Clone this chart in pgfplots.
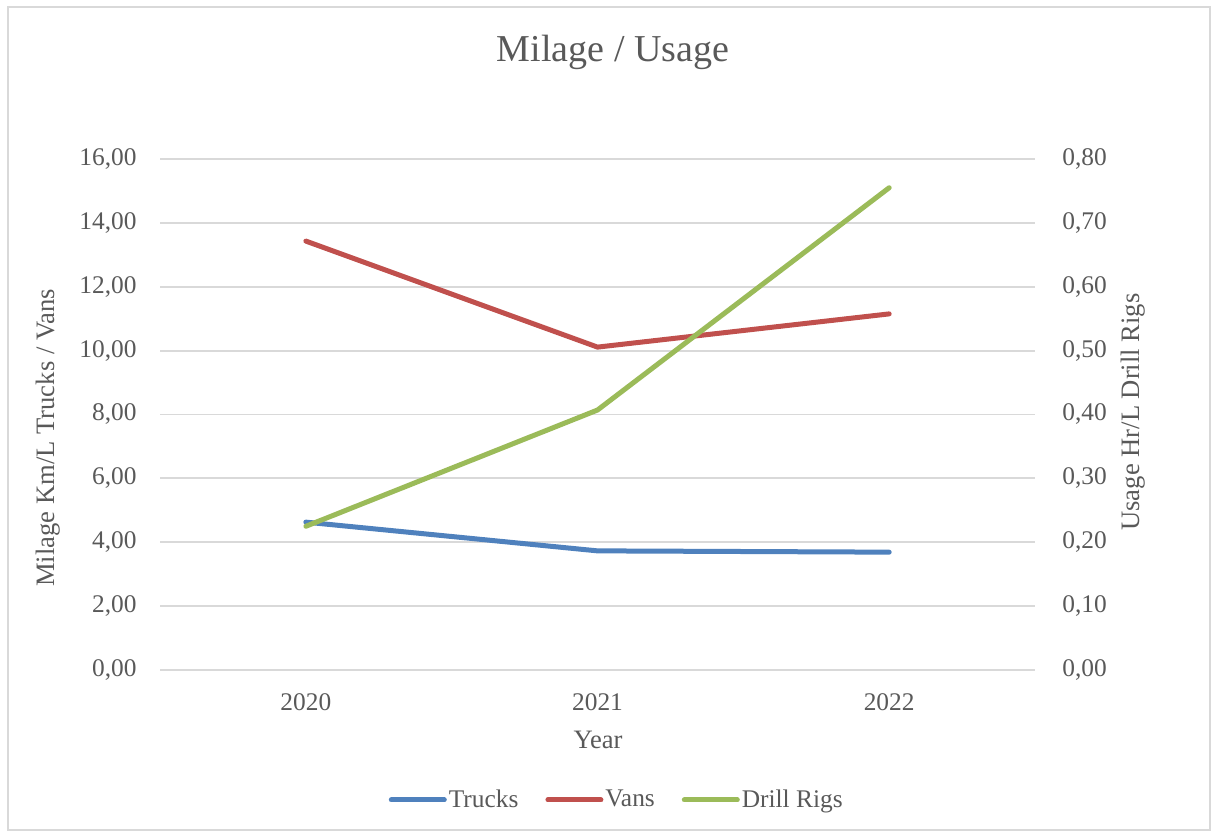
\documentclass[border=0pt]{standalone}
\usepackage{pgfplots}
\pgfplotsset{compat=1.18}
\usepackage{fontspec}
\setmainfont{Liberation Serif}
\definecolor{trucks}{HTML}{4F81BD}
\definecolor{vans}{HTML}{C0504D}
\definecolor{rigs}{HTML}{9BBB59}
\definecolor{txt}{HTML}{595959}
\definecolor{gridc}{HTML}{D9D9D9}
\begin{document}
\begin{tikzpicture}
\path[use as bounding box] (0pt,0pt) rectangle (607pt,417.5pt);
\draw[color=gridc, line width=0.8pt] (4pt,2.5pt) rectangle (605pt,414pt);
\pgfplotsset{
  common/.style={
    at={(80pt,82.5pt)}, anchor=south west,
    scale only axis, width=437.5pt, height=255.5pt,
    xmin=-0.5, xmax=2.5,
    axis line style={draw=none},
    major tick length=0pt,
    tick label style={font=\fontsize{12.7}{14}\selectfont, color=txt},
    /pgf/number format/use comma,
    /pgf/number format/fixed,
    /pgf/number format/fixed zerofill,
    /pgf/number format/precision=2,
    /pgf/number format/assume math mode=true,
  }
}
\begin{axis}[common,
  ymin=0, ymax=16, ytick={0,2,4,6,8,10,12,14,16},
  xtick={0,1,2}, xticklabels={2020,2021,2022},
  ymajorgrids, grid style={color=gridc, line width=0.9pt},
  yticklabel style={anchor=east, inner sep=0pt, xshift=-11.5pt},
  xticklabel style={anchor=center, inner sep=0pt, yshift=-16pt},
]
\addplot[trucks, line width=2.5pt, line cap=round] coordinates {(0,4.63) (1,3.73) (2,3.69)};
\addplot[vans, line width=2.5pt, line cap=round] coordinates {(0,13.43) (1,10.11) (2,11.15)};
\end{axis}
\begin{axis}[common,
  ymin=0, ymax=0.8, ytick={0,0.1,0.2,0.3,0.4,0.5,0.6,0.7,0.8},
  axis y line*=right, axis x line=none,
  yticklabel style={anchor=west, inner sep=0pt, xshift=13.5pt},
  legend columns=3,
  legend style={at={(axis description cs:0.522,-0.2544)}, anchor=center,
    draw=none, fill=none, font=\fontsize{12.7}{14}\selectfont, text=txt,
    inner sep=0pt,
    nodes={inner sep=1pt},
    /tikz/every even column/.append style={column sep=12.5pt}},
  legend image code/.code={\draw[line width=2.5pt, line cap=round] (0pt,0pt) -- (26.5pt,0pt);},
]
\addlegendimage{trucks}
\addlegendentry{Trucks}
\addlegendimage{vans}
\addlegendentry{Vans}
\addplot[rigs, line width=2.5pt, line cap=round] coordinates {(0,0.225) (1,0.407) (2,0.755)};
\addlegendentry{Drill Rigs}
\end{axis}
\node[font=\fontsize{19}{21}\selectfont, color=txt] at (306.5pt,391.5pt) {Milage / Usage};
\node[font=\fontsize{13.3}{15}\selectfont, color=txt, rotate=90] at (24pt,198.5pt) {Milage Km/L Trucks / Vans};
\node[font=\fontsize{13.3}{15}\selectfont, color=txt, rotate=90] at (566.5pt,211.5pt) {Usage Hr/L Drill Rigs};
\node[font=\fontsize{13.3}{15}\selectfont, color=txt] at (299pt,47.5pt) {Year};
\end{tikzpicture}
\end{document}
